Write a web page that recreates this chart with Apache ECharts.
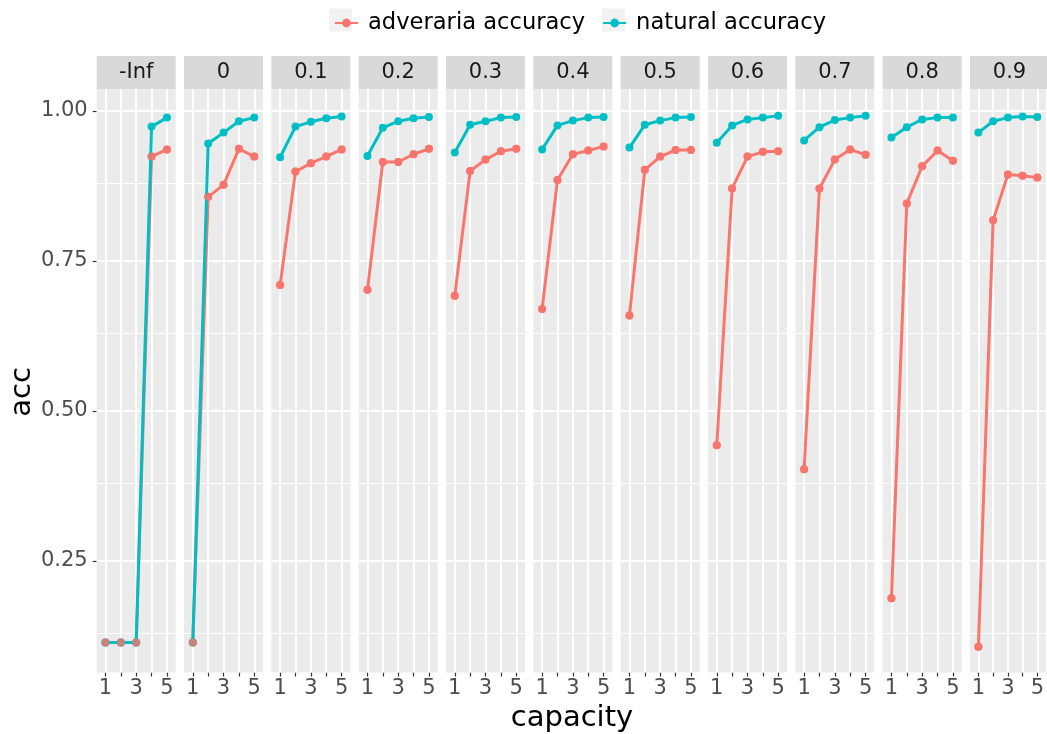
<!DOCTYPE html>
<html>
<head>
<meta charset="utf-8">
<script src="https://cdn.jsdelivr.net/npm/echarts@6/dist/echarts.min.js"></script>
<style>
html,body{margin:0;padding:0;background:#fff;}
#chart{width:1047px;height:734px;}
</style>
</head>
<body>
<div id="chart"></div>
<script>
// ---- data ----
const facets = ['-Inf', '0', '0.1', '0.2', '0.3', '0.4', '0.5', '0.6', '0.7', '0.8', '0.9'];
const capacity = [1, 2, 3, 4, 5];

const advNegInf = [0.114, 0.114, 0.114, 0.924, 0.936];
const adv00 = [0.114, 0.857, 0.877, 0.937, 0.924];
const adv01 = [0.710, 0.899, 0.913, 0.924, 0.936];
const adv02 = [0.702, 0.915, 0.915, 0.928, 0.937];
const adv03 = [0.692, 0.900, 0.919, 0.933, 0.937];
const adv04 = [0.670, 0.885, 0.928, 0.934, 0.941];
const adv05 = [0.659, 0.902, 0.924, 0.935, 0.935];
const adv06 = [0.443, 0.871, 0.924, 0.932, 0.933];
const adv07 = [0.403, 0.871, 0.919, 0.936, 0.927];
const adv08 = [0.188, 0.846, 0.908, 0.934, 0.917];
const adv09 = [0.107, 0.818, 0.894, 0.892, 0.889];

const natNegInf = [0.114, 0.114, 0.114, 0.974, 0.989];
const nat00 = [0.114, 0.946, 0.964, 0.983, 0.989];
const nat01 = [0.923, 0.974, 0.982, 0.988, 0.991];
const nat02 = [0.925, 0.972, 0.983, 0.988, 0.990];
const nat03 = [0.931, 0.977, 0.983, 0.989, 0.990];
const nat04 = [0.936, 0.976, 0.984, 0.989, 0.990];
const nat05 = [0.939, 0.977, 0.984, 0.989, 0.990];
const nat06 = [0.947, 0.976, 0.986, 0.989, 0.992];
const nat07 = [0.951, 0.973, 0.985, 0.989, 0.992];
const nat08 = [0.956, 0.973, 0.986, 0.989, 0.989];
const nat09 = [0.964, 0.983, 0.989, 0.991, 0.990];

const yTicks = [0.25, 0.5, 0.75, 1.0];
const yMinor = [0.125, 0.375, 0.625, 0.875];
const xTicks = [1, 2, 3, 4, 5];
const xLabels = [1, 3, 5];

const seriesNames = ['adveraria accuracy', 'natural accuracy'];

// ---- layout / style ----
const advByFacet = [advNegInf, adv00, adv01, adv02, adv03, adv04, adv05, adv06, adv07, adv08, adv09];
const natByFacet = [natNegInf, nat00, nat01, nat02, nat03, nat04, nat05, nat06, nat07, nat08, nat09];
const RED = '#F8766D', TEAL = '#00BFC4';
const FONT = 'DejaVu Sans';
const P_LEFT0 = 96.7, P_STEP = 87.33, P_W = 79, P_TOP = 89, P_H = 583.5;
const STRIP_TOP = 56, STRIP_H = 33;
const LW = 3;

const pairs = a => capacity.map((c, k) => [c, a[k]]);

const grids = [], xAxes = [], yAxes = [], series = [], graphics = [];
facets.forEach((f, i) => {
  const left = P_LEFT0 + i * P_STEP;
  grids.push({left: left, top: P_TOP, width: P_W, height: P_H, show: true,
    backgroundColor: '#EBEBEB', borderWidth: 0, containLabel: false});
  xAxes.push({type: 'value', gridIndex: i, min: 0.43, max: 5.57,
    axisLine: {show: false}, splitLine: {show: false},
    axisTick: {show: true, customValues: xTicks, length: 4, lineStyle: {color: '#333333', width: 1.2}},
    axisLabel: {show: true, customValues: xLabels, margin: 6, color: '#4D4D4D', fontSize: 21, fontFamily: FONT}
  });
  yAxes.push({type: 'value', gridIndex: i, min: 0.0642, max: 1.0367,
    axisLine: {show: false}, splitLine: {show: false},
    axisTick: {show: i === 0, customValues: yTicks, length: 4, lineStyle: {color: '#333333', width: 1.2}},
    axisLabel: {show: i === 0, customValues: yTicks, margin: 9, color: '#4D4D4D', fontSize: 21, fontFamily: FONT,
      formatter: v => v.toFixed(2)}
  });
  const ml = [];
  yMinor.forEach(v => ml.push({yAxis: v, lineStyle: {color: '#FFFFFF', width: 1, type: 'solid'}}));
  yTicks.forEach(v => ml.push({yAxis: v, lineStyle: {color: '#FFFFFF', width: 2, type: 'solid'}}));
  xTicks.forEach(v => ml.push({xAxis: v, lineStyle: {color: '#FFFFFF', width: 2, type: 'solid'}}));
  series.push({type: 'line', name: 'grid' + i, xAxisIndex: i, yAxisIndex: i, z: 1, silent: true,
    data: pairs(natByFacet[i]), symbol: 'none', lineStyle: {opacity: 0}, animation: false,
    markLine: {z: 1, silent: true, symbol: ['none', 'none'], label: {show: false}, animation: false, data: ml}});
  series.push({type: 'line', name: seriesNames[0], xAxisIndex: i, yAxisIndex: i, z: 3,
    data: pairs(advByFacet[i]), symbol: 'circle', symbolSize: 8, showSymbol: true,
    lineStyle: {color: RED, width: LW}, itemStyle: {color: RED}, animation: false, emphasis: {disabled: true}});
  series.push({type: 'line', name: seriesNames[1], xAxisIndex: i, yAxisIndex: i, z: 4,
    data: pairs(natByFacet[i]), symbol: 'circle', symbolSize: 8, showSymbol: true,
    lineStyle: {color: TEAL, width: LW}, itemStyle: {color: TEAL}, animation: false, emphasis: {disabled: true}});
  series.push({type: 'scatter', name: seriesNames[0], xAxisIndex: i, yAxisIndex: i, z: 5,
    data: pairs(advByFacet[i]), symbol: 'circle', symbolSize: 8,
    itemStyle: {color: RED}, animation: false, emphasis: {disabled: true}});
  graphics.push({type: 'rect', silent: true, z: 1,
    shape: {x: left, y: STRIP_TOP, width: P_W, height: STRIP_H}, style: {fill: '#D9D9D9'}});
  graphics.push({type: 'text', silent: true, z: 2,
    x: left + P_W / 2, y: STRIP_TOP + STRIP_H / 2,
    style: {text: f, fill: '#1A1A1A', font: '21px "DejaVu Sans"', align: 'center', verticalAlign: 'middle'}});
});

// legend key backgrounds
graphics.push({type: 'rect', silent: true, z: 0, shape: {x: 329, y: 8.5, width: 23, height: 23}, style: {fill: '#F2F2F2'}});
graphics.push({type: 'rect', silent: true, z: 0, shape: {x: 602, y: 8.5, width: 23, height: 23}, style: {fill: '#F2F2F2'}});
// axis titles
graphics.push({type: 'text', silent: true, x: 572, y: 718,
  style: {text: 'capacity', fill: '#000000', font: '29px "DejaVu Sans"', align: 'center', verticalAlign: 'middle'}});
graphics.push({type: 'text', silent: true, x: 22, y: 392, rotation: Math.PI / 2,
  style: {text: 'acc', fill: '#000000', font: '29px "DejaVu Sans"', align: 'center', verticalAlign: 'middle'}});

const chart = echarts.init(document.getElementById('chart'), null, {renderer: 'canvas'});
chart.setOption({
  backgroundColor: '#FFFFFF',
  animation: false,
  textStyle: {fontFamily: FONT},
  legend: {
    data: seriesNames, left: 329, top: 6.5, itemWidth: 23, itemHeight: 11, itemGap: 17,
    selectedMode: false,
    textStyle: {fontSize: 22.6, color: '#000000', fontFamily: FONT, padding: [0, 0, 0, 5]}
  },
  grid: grids,
  xAxis: xAxes,
  yAxis: yAxes,
  series: series,
  graphic: graphics
});
</script>
</body>
</html>
